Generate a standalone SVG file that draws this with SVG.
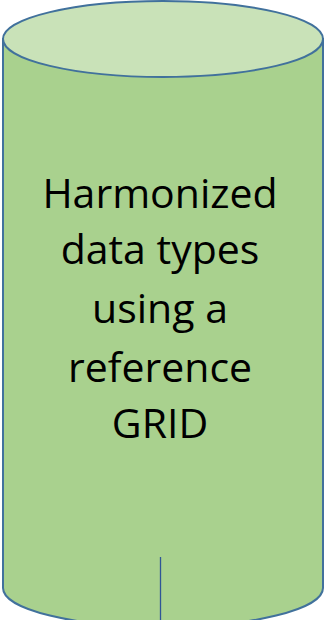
<svg xmlns="http://www.w3.org/2000/svg" width="325" height="620" viewBox="0 0 325 620">
<style>
.body{fill:#A9D18E;stroke:#41719C;stroke-width:2}
.top{fill:#C9E2B8;stroke:#41719C;stroke-width:2}
.lbl{font-family:"Open Sans","Liberation Sans",sans-serif;font-size:41px;fill:#000;text-anchor:middle}
.conn{stroke:#2F5597;stroke-width:1.3;fill:none}
</style>
<rect width="325" height="620" fill="#ffffff"/>
<g id="cylinder">
<path class="body" d="M3,39 L3,588 A160,39 0 0 0 323,588 L323,39 Z"/>
<ellipse class="top" cx="163" cy="39" rx="160" ry="38"/>
<text class="lbl" x="160" y="208">Harmonized</text>
<text class="lbl" x="160" y="264">data types</text>
<text class="lbl" x="160" y="323">using a</text>
<text class="lbl" x="160" y="382">reference</text>
<text class="lbl" x="160" y="438">GRID</text>
</g>
<g id="connectors">
<line class="conn" x1="160.5" y1="557" x2="160.5" y2="620"/>
</g>
</svg>
